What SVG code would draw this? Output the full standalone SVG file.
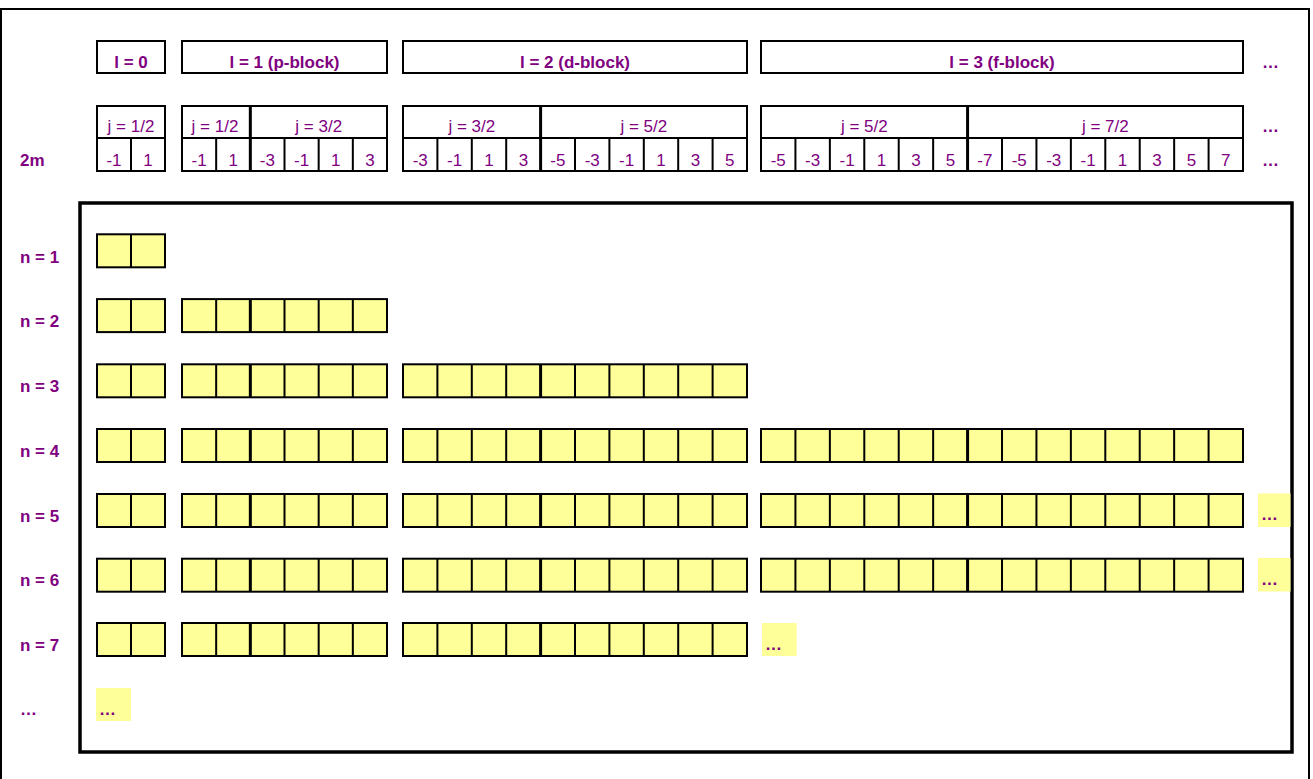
<svg xmlns="http://www.w3.org/2000/svg" xmlns:xlink="http://www.w3.org/1999/xlink" width="1313" height="779" viewBox="0 0 1313 779">
<style>
.bx{stroke:#000;stroke-width:2}
.ln{stroke:#000;stroke-width:2;fill:none}
.tk{stroke:#000;stroke-width:3;fill:none}
.hb{stroke:#000;stroke-width:2;fill:#fff}
.t{font-family:"Liberation Sans",Arial,Helvetica,sans-serif;font-size:17px;fill:#800080}
.b{font-weight:bold}
.c{text-anchor:middle}
.el{fill:#ffff99}
</style>
<defs>
<g id="b0"><rect class="bx" x="97" y="0" width="68" height="33"/><path class="ln" d="M131 0V33"/></g>
<g id="b1"><rect class="bx" x="182" y="0" width="205" height="33"/><path class="ln" d="M216.17 0V33M284.5 0V33M318.67 0V33M352.83 0V33"/><path class="tk" d="M250.33 0V33"/></g>
<g id="b2"><rect class="bx" x="403" y="0" width="344" height="33"/><path class="ln" d="M437.4 0V33M471.8 0V33M506.2 0V33M575 0V33M609.4 0V33M643.8 0V33M678.2 0V33M712.6 0V33"/><path class="tk" d="M540.6 0V33"/></g>
<g id="b3"><rect class="bx" x="761" y="0" width="482" height="33"/><path class="ln" d="M795.43 0V33M829.86 0V33M864.29 0V33M898.72 0V33M933.15 0V33M1002.01 0V33M1036.44 0V33M1070.87 0V33M1105.3 0V33M1139.73 0V33M1174.16 0V33M1208.59 0V33"/><path class="tk" d="M967.58 0V33"/></g>
</defs>
<rect width="1313" height="779" fill="#fff"/>
<rect id="outer-frame" x="1" y="9" width="1308" height="800" fill="none" stroke="#000" stroke-width="2"/>
<g id="grid-frame"><rect x="80" y="203" width="1212" height="549" fill="none" stroke="#000" stroke-width="3.5"/></g>

<g id="header-l">
<rect class="hb" x="97" y="41" width="68" height="32"/>
<rect class="hb" x="182" y="41" width="205" height="32"/>
<rect class="hb" x="403" y="41" width="344" height="32"/>
<rect class="hb" x="761" y="41" width="482" height="32"/>
<text class="t b c" x="131" y="68">l = 0</text>
<text class="t b c" x="284.5" y="68">l = 1 (p-block)</text>
<text class="t b c" x="575" y="68">l = 2 (d-block)</text>
<text class="t b c" x="1002" y="68">l = 3 (f-block)</text>
<text class="t b" x="1262" y="68">…</text>
</g>

<g id="header-j">
<rect class="hb" x="97" y="106" width="68" height="32"/>
<rect class="hb" x="182" y="106" width="205" height="32"/>
<rect class="hb" x="403" y="106" width="344" height="32"/>
<rect class="hb" x="761" y="106" width="482" height="32"/>
<path class="tk" d="M250.33 106V138M540.6 106V138M967.58 106V138"/>
<text class="t c" x="131" y="132">j = 1/2</text>
<text class="t c" x="215" y="132">j = 1/2</text>
<text class="t c" x="318.7" y="132">j = 3/2</text>
<text class="t c" x="471.8" y="132">j = 3/2</text>
<text class="t c" x="643.8" y="132">j = 5/2</text>
<text class="t c" x="864.3" y="132">j = 5/2</text>
<text class="t c" x="1105.3" y="132">j = 7/2</text>
<text class="t b" x="1262" y="132">…</text>
</g>

<g id="header-m">
<text class="t b" x="20" y="165.5">2m</text>
<use xlink:href="#b0" href="#b0" y="138" fill="#fff"/>
<use xlink:href="#b1" href="#b1" y="138" fill="#fff"/>
<use xlink:href="#b2" href="#b2" y="138" fill="#fff"/>
<use xlink:href="#b3" href="#b3" y="138" fill="#fff"/>
<g class="t c">
<text x="114" y="165.5">-1</text><text x="148" y="165.5">1</text>
<text x="199.1" y="165.5">-1</text><text x="233.3" y="165.5">1</text><text x="267.4" y="165.5">-3</text><text x="301.6" y="165.5">-1</text><text x="335.8" y="165.5">1</text><text x="369.9" y="165.5">3</text>
<text x="420.2" y="165.5">-3</text><text x="454.6" y="165.5">-1</text><text x="489" y="165.5">1</text><text x="523.4" y="165.5">3</text><text x="557.8" y="165.5">-5</text><text x="592.2" y="165.5">-3</text><text x="626.6" y="165.5">-1</text><text x="661" y="165.5">1</text><text x="695.4" y="165.5">3</text><text x="729.8" y="165.5">5</text>
<text x="778.2" y="165.5">-5</text><text x="812.6" y="165.5">-3</text><text x="847.1" y="165.5">-1</text><text x="881.5" y="165.5">1</text><text x="915.9" y="165.5">3</text><text x="950.4" y="165.5">5</text><text x="984.8" y="165.5">-7</text><text x="1019.2" y="165.5">-5</text><text x="1053.7" y="165.5">-3</text><text x="1088.1" y="165.5">-1</text><text x="1122.5" y="165.5">1</text><text x="1157" y="165.5">3</text><text x="1191.4" y="165.5">5</text><text x="1225.8" y="165.5">7</text>
</g>
<text class="t b" x="1262" y="165.5">…</text>
</g>

<g id="row-n1">
<text class="t b" x="20" y="263">n = 1</text>
<use xlink:href="#b0" href="#b0" y="234.3" fill="#ffff99"/>
</g>
<g id="row-n2">
<text class="t b" x="20" y="327">n = 2</text>
<use xlink:href="#b0" href="#b0" y="299.1" fill="#ffff99"/>
<use xlink:href="#b1" href="#b1" y="299.1" fill="#ffff99"/>
</g>
<g id="row-n3">
<text class="t b" x="20" y="392">n = 3</text>
<use xlink:href="#b0" href="#b0" y="364.3" fill="#ffff99"/>
<use xlink:href="#b1" href="#b1" y="364.3" fill="#ffff99"/>
<use xlink:href="#b2" href="#b2" y="364.3" fill="#ffff99"/>
</g>
<g id="row-n4">
<text class="t b" x="20" y="457">n = 4</text>
<use xlink:href="#b0" href="#b0" y="429" fill="#ffff99"/>
<use xlink:href="#b1" href="#b1" y="429" fill="#ffff99"/>
<use xlink:href="#b2" href="#b2" y="429" fill="#ffff99"/>
<use xlink:href="#b3" href="#b3" y="429" fill="#ffff99"/>
</g>
<g id="row-n5">
<text class="t b" x="20" y="522">n = 5</text>
<use xlink:href="#b0" href="#b0" y="494" fill="#ffff99"/>
<use xlink:href="#b1" href="#b1" y="494" fill="#ffff99"/>
<use xlink:href="#b2" href="#b2" y="494" fill="#ffff99"/>
<use xlink:href="#b3" href="#b3" y="494" fill="#ffff99"/>
<rect class="el" x="1258" y="493.5" width="32.5" height="33.5"/>
<text class="t b" x="1261" y="520">…</text>
</g>
<g id="row-n6">
<text class="t b" x="20" y="586">n = 6</text>
<use xlink:href="#b0" href="#b0" y="558.7" fill="#ffff99"/>
<use xlink:href="#b1" href="#b1" y="558.7" fill="#ffff99"/>
<use xlink:href="#b2" href="#b2" y="558.7" fill="#ffff99"/>
<use xlink:href="#b3" href="#b3" y="558.7" fill="#ffff99"/>
<rect class="el" x="1258" y="558" width="32.5" height="33.5"/>
<text class="t b" x="1261" y="585">…</text>
</g>
<g id="row-n7">
<text class="t b" x="20" y="651">n = 7</text>
<use xlink:href="#b0" href="#b0" y="623" fill="#ffff99"/>
<use xlink:href="#b1" href="#b1" y="623" fill="#ffff99"/>
<use xlink:href="#b2" href="#b2" y="623" fill="#ffff99"/>
<rect class="el" x="762" y="623" width="34.7" height="33"/>
<text class="t b" x="765" y="650">…</text>
</g>
<g id="row-more">
<text class="t b" x="20" y="714.5">…</text>
<rect class="el" x="96" y="688" width="35" height="33"/>
<text class="t b" x="99" y="714.5">…</text>
</g>
<g id="connectors"/>
</svg>
